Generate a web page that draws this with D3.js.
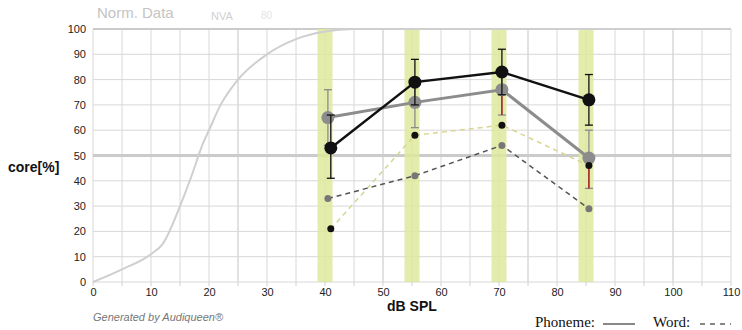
<!DOCTYPE html>
<html><head><meta charset="utf-8">
<script src="https://cdn.jsdelivr.net/npm/d3@7"></script>
<style>body{margin:0;background:#fff}svg{display:block}</style>
</head><body><svg id="c" width="742" height="330"></svg>
<script>
const levels = [40, 55, 70, 85];
const xTicks = [0,10,20,30,40,50,60,70,80,90,100,110];
const yTicks = [0,10,20,30,40,50,60,70,80,90,100];
const normX = [0,5,10,12,15,17,19,20,22,25,30,35,40,45,110];
const normY = [0,5,11,15,30,42,55,60,70,80,90,96,99,100,100];
const phonAidX = [41,55.5,70.5,85.5];
const phonAid = [53,79,83,72];
const phonAidLo = [41,70,74,62];
const phonAidHi = [66,88,92,82];
const phonUnX = [40.5,55.5,70.5,85.5];
const phonUn = [65,71,76,49];
const phonUnLo = [54,61,66,37];
const phonUnHi = [76,80,84,60];
const wordUn = [33,42,54,29];
const wordAid = [21,58,62,46];

const svg = d3.select('#c');
const x = d3.scaleLinear().domain([0,110]).range([93,731]);
const y = d3.scaleLinear().domain([0,100]).range([282,29]);

// grid
const vg = d3.range(0,111,5);
svg.append('g').selectAll('line').data(vg).join('line')
  .attr('x1',d=>x(d)).attr('x2',d=>x(d)).attr('y1',y(100)).attr('y2',y(0))
  .attr('stroke',d=>d%25===0&&d>0?'#c4c4c4':'#d8d8d8').attr('stroke-width',1);
svg.append('g').selectAll('line').data(vg).join('line')
  .attr('x1',d=>x(d)).attr('x2',d=>x(d)).attr('y1',y(0)).attr('y2',y(0)+4)
  .attr('stroke','#d0d0d0').attr('stroke-width',1);
svg.append('g').selectAll('line').data(yTicks).join('line')
  .attr('x1',x(0)).attr('x2',x(110)).attr('y1',d=>y(d)).attr('y2',d=>y(d))
  .attr('stroke','#d8d8d8').attr('stroke-width',1);
svg.append('line').attr('x1',x(0)).attr('x2',x(110)).attr('y1',y(50)).attr('y2',y(50))
  .attr('stroke','#cbcbcb').attr('stroke-width',3);
svg.append('line').attr('x1',x(0)).attr('x2',x(110)).attr('y1',y(100)).attr('y2',y(100))
  .attr('stroke','#cbcbcb').attr('stroke-width',2);

// level bands
svg.append('g').selectAll('rect').data(levels).join('rect')
  .attr('x',d=>x(d)-7.5).attr('width',15).attr('y',y(100)).attr('height',y(0)-y(100))
  .attr('fill','#dfe99c').attr('opacity',0.85);

// normative curve
svg.append('path').datum(normX.map((v,i)=>[v,normY[i]]))
  .attr('d',d3.line().x(d=>x(d[0])).y(d=>y(d[1])).curve(d3.curveMonotoneX))
  .attr('fill','none').attr('stroke','#cfcfcf').attr('stroke-width',2);

// axes labels
svg.append('g').attr('transform',`translate(0,${y(0)})`)
  .call(d3.axisBottom(x).tickValues(xTicks).tickSize(0).tickPadding(6))
  .call(g=>{g.select('.domain').remove();g.selectAll('text').attr('font-family','Liberation Sans, Arial').attr('font-size',11).attr('fill','#222');});
svg.append('g').attr('transform',`translate(${x(0)},0)`)
  .call(d3.axisLeft(y).tickValues(yTicks).tickSize(0).tickPadding(7))
  .call(g=>{g.select('.domain').remove();g.selectAll('text').attr('font-family','Liberation Sans, Arial').attr('font-size',11).attr('fill','#222');});

// word lines
const ln = d3.line().x(d=>x(d[0])).y(d=>y(d[1]));
svg.append('path').datum(phonAidX.map((v,i)=>[v,wordAid[i]])).attr('d',ln)
  .attr('fill','none').attr('stroke','#d6d690').attr('stroke-width',1.5).attr('stroke-dasharray','5,4');
svg.append('path').datum(phonUnX.map((v,i)=>[v,wordUn[i]])).attr('d',ln)
  .attr('fill','none').attr('stroke','#555').attr('stroke-width',1.5).attr('stroke-dasharray','5,4');

// error bars
function ebars(xs,lo,hi,col){
  const g=svg.append('g').attr('stroke',col).attr('stroke-width',1.3);
  xs.forEach((v,i)=>{
    g.append('line').attr('x1',x(v)).attr('x2',x(v)).attr('y1',y(lo[i])).attr('y2',y(hi[i]));
    [lo[i],hi[i]].forEach(t=>g.append('line').attr('x1',x(v)-4).attr('x2',x(v)+4).attr('y1',y(t)).attr('y2',y(t)));
  });
}
ebars(phonUnX,phonUnLo,phonUnHi,'#8a8a8a');
svg.append('g').selectAll('line').data([2,3]).join('line')
  .attr('x1',i=>x(phonUnX[i])).attr('x2',i=>x(phonUnX[i])).attr('y1',i=>y(phonUn[i])).attr('y2',i=>y(phonUnLo[i]))
  .attr('stroke','#b01010').attr('stroke-width',1.3);

// phoneme lines
svg.append('path').datum(phonUnX.map((v,i)=>[v,phonUn[i]])).attr('d',ln)
  .attr('fill','none').attr('stroke','#8c8c8c').attr('stroke-width',3);
svg.append('g').selectAll('circle').data(phonUn).join('circle')
  .attr('cx',(d,i)=>x(phonUnX[i])).attr('cy',d=>y(d)).attr('r',6.5).attr('fill','#8c8c8c');

ebars(phonAidX,phonAidLo,phonAidHi,'#111');
svg.append('path').datum(phonAidX.map((v,i)=>[v,phonAid[i]])).attr('d',ln)
  .attr('fill','none').attr('stroke','#111').attr('stroke-width',2.5);
svg.append('g').selectAll('circle').data(phonAid).join('circle')
  .attr('cx',(d,i)=>x(phonAidX[i])).attr('cy',d=>y(d)).attr('r',6.5).attr('fill','#111');

// word points
svg.append('g').selectAll('circle').data(wordUn).join('circle')
  .attr('cx',(d,i)=>x(phonUnX[i])).attr('cy',d=>y(d)).attr('r',3.5).attr('fill','#777');
svg.append('g').selectAll('circle').data(wordAid).join('circle')
  .attr('cx',(d,i)=>x(phonAidX[i])).attr('cy',d=>y(d)).attr('r',3.5).attr('fill','#111');

// texts
svg.append('text').attr('x',97).attr('y',18).text('Norm. Data')
  .attr('font-family','Liberation Sans, Arial').attr('font-size',15).attr('fill','#c4c4c4');
svg.append('text').attr('x',211).attr('y',20).text('NVA')
  .attr('font-family','Liberation Sans, Arial').attr('font-size',11).attr('fill','#cfcfcf');
svg.append('text').attr('x',261).attr('y',19).text('80')
  .attr('font-family','Liberation Sans, Arial').attr('font-size',10).attr('fill','#e4e4e4');
svg.append('text').attr('x',8).attr('y',172).text('core[%]')
  .attr('font-family','Liberation Sans, Arial').attr('font-weight','bold').attr('font-size',14).attr('fill','#111');
svg.append('text').attr('x',387).attr('y',311).text('dB SPL')
  .attr('font-family','Liberation Sans, Arial').attr('font-weight','bold').attr('font-size',14).attr('fill','#111');
svg.append('text').attr('x',93).attr('y',321).text('Generated by Audiqueen®')
  .attr('font-family','Liberation Sans, Arial').attr('font-style','italic').attr('font-size',11).attr('fill','#777');
svg.append('text').attr('x',535).attr('y',327).text('Phoneme:')
  .attr('font-family','Liberation Serif, Times New Roman').attr('font-size',15).attr('fill','#111');
svg.append('line').attr('x1',603).attr('x2',635).attr('y1',324).attr('y2',324).attr('stroke','#111').attr('stroke-width',1);
svg.append('text').attr('x',653).attr('y',327).text('Word:')
  .attr('font-family','Liberation Serif, Times New Roman').attr('font-size',15).attr('fill','#111');
svg.append('line').attr('x1',700).attr('x2',731).attr('y1',324).attr('y2',324).attr('stroke','#111').attr('stroke-width',1).attr('stroke-dasharray','5,5');
</script></body></html>
